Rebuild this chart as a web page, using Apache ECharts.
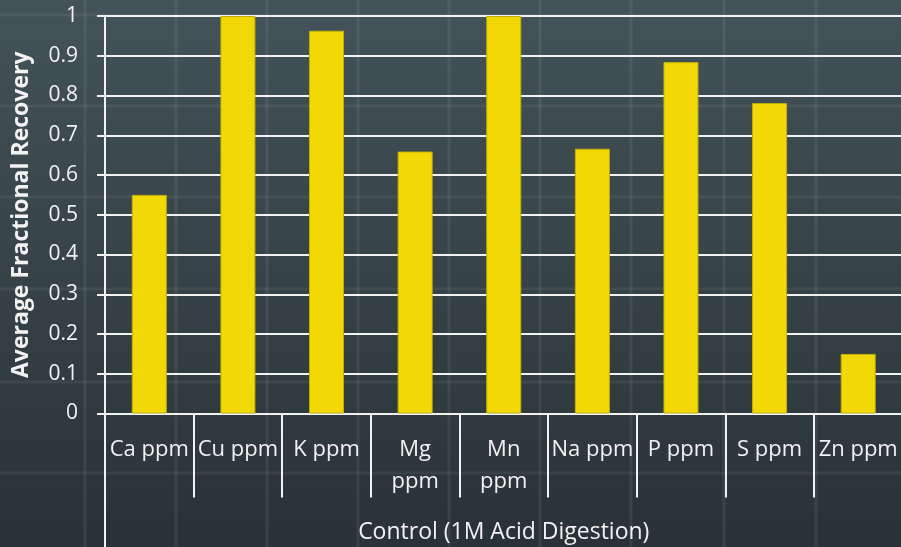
<!DOCTYPE html>
<html>
<head>
<meta charset="utf-8">
<script src="https://cdn.jsdelivr.net/npm/echarts@6/dist/echarts.min.js"></script>
<style>
  html, body { margin: 0; padding: 0; background: #333d42; }
  #chart { width: 901px; height: 547px; }
</style>
</head>
<body>
<div id="chart"></div>
<script>
// Element categories (inner axis level)
const categories = ['Ca ppm', 'Cu ppm', 'K ppm', 'Mg\nppm', 'Mn\nppm', 'Na ppm', 'P ppm', 'S ppm', 'Zn ppm'];
// Outer axis level grouping all elements
const groupLabels = ['Control (1M Acid Digestion)'];
// Average fractional recovery per element
const recovery = [0.55, 1.0, 0.963, 0.659, 1.0, 0.666, 0.884, 0.781, 0.15];
// Y axis ticks
const yTicks = { min: 0, max: 1, interval: 0.1 };

const chart = echarts.init(document.getElementById('chart'), null, { renderer: 'canvas' });

// Faint chalkboard-style texture lines behind the chart
const texture = [];
[85, 176, 267, 358, 449, 540, 631, 724, 816].forEach(x => {
  texture.push({ type: 'rect', z: -10, silent: true,
    shape: { x: x - 1.5, y: 0, width: 3, height: 547 },
    style: { fill: 'rgba(255,255,255,0.07)' } });
});
[15, 106, 197, 289, 382, 473].forEach(y => {
  texture.push({ type: 'rect', z: -10, silent: true,
    shape: { x: 0, y: y - 1.5, width: 901, height: 3 },
    style: { fill: 'rgba(255,255,255,0.06)' } });
});

const white = '#f2f2f2';
const font = '"Open Sans", "Noto Sans", sans-serif';

chart.setOption({
  animation: false,
  backgroundColor: new echarts.graphic.LinearGradient(0, 0, 0, 1, [
    { offset: 0, color: '#435359' },
    { offset: 1, color: '#293236' }
  ]),
  graphic: texture,
  grid: { left: 105, right: -1.5, top: 16, bottom: 133.5, containLabel: false, outerBoundsMode: 'none' },
  xAxis: [
    {
      type: 'category',
      data: categories,
      position: 'bottom',
      axisLine: { show: true, lineStyle: { color: white, width: 2 } },
      axisTick: { show: true, alignWithLabel: false, length: 84, lineStyle: { color: white, width: 2 } },
      axisLabel: {
        interval: 0, color: white, fontFamily: font, fontSize: 22,
        lineHeight: 32, margin: 20, align: 'center'
      },
      splitLine: { show: false }
    },
    {
      type: 'category',
      data: groupLabels,
      position: 'bottom',
      axisLine: { show: false },
      axisTick: { show: true, alignWithLabel: false, length: 134, lineStyle: { color: white, width: 2 } },
      axisLabel: {
        interval: 0, color: white, fontFamily: font, fontSize: 23,
        lineHeight: 24, margin: 107
      },
      splitLine: { show: false }
    }
  ],
  yAxis: {
    type: 'value',
    min: yTicks.min, max: yTicks.max, interval: yTicks.interval,
    name: 'Average Fractional Recovery',
    nameLocation: 'middle',
    nameGap: 72,
    nameTextStyle: { color: white, fontFamily: font, fontSize: 23, fontWeight: 'bold' },
    axisLine: { show: true, lineStyle: { color: white, width: 2 } },
    axisTick: { show: true, length: 8, lineStyle: { color: white, width: 2 } },
    axisLabel: {
      color: white, fontFamily: font, fontSize: 21, margin: 27,
      formatter: v => String(Math.round(v * 10) / 10)
    },
    splitLine: { show: true, lineStyle: { color: white, width: 2 } }
  },
  series: [{
    type: 'bar',
    xAxisIndex: 0,
    data: recovery,
    barWidth: 35,
    itemStyle: { color: '#f2d906', borderColor: '#c2b008', borderWidth: 1 },
    z: 3
  }]
});
</script>
</body>
</html>
